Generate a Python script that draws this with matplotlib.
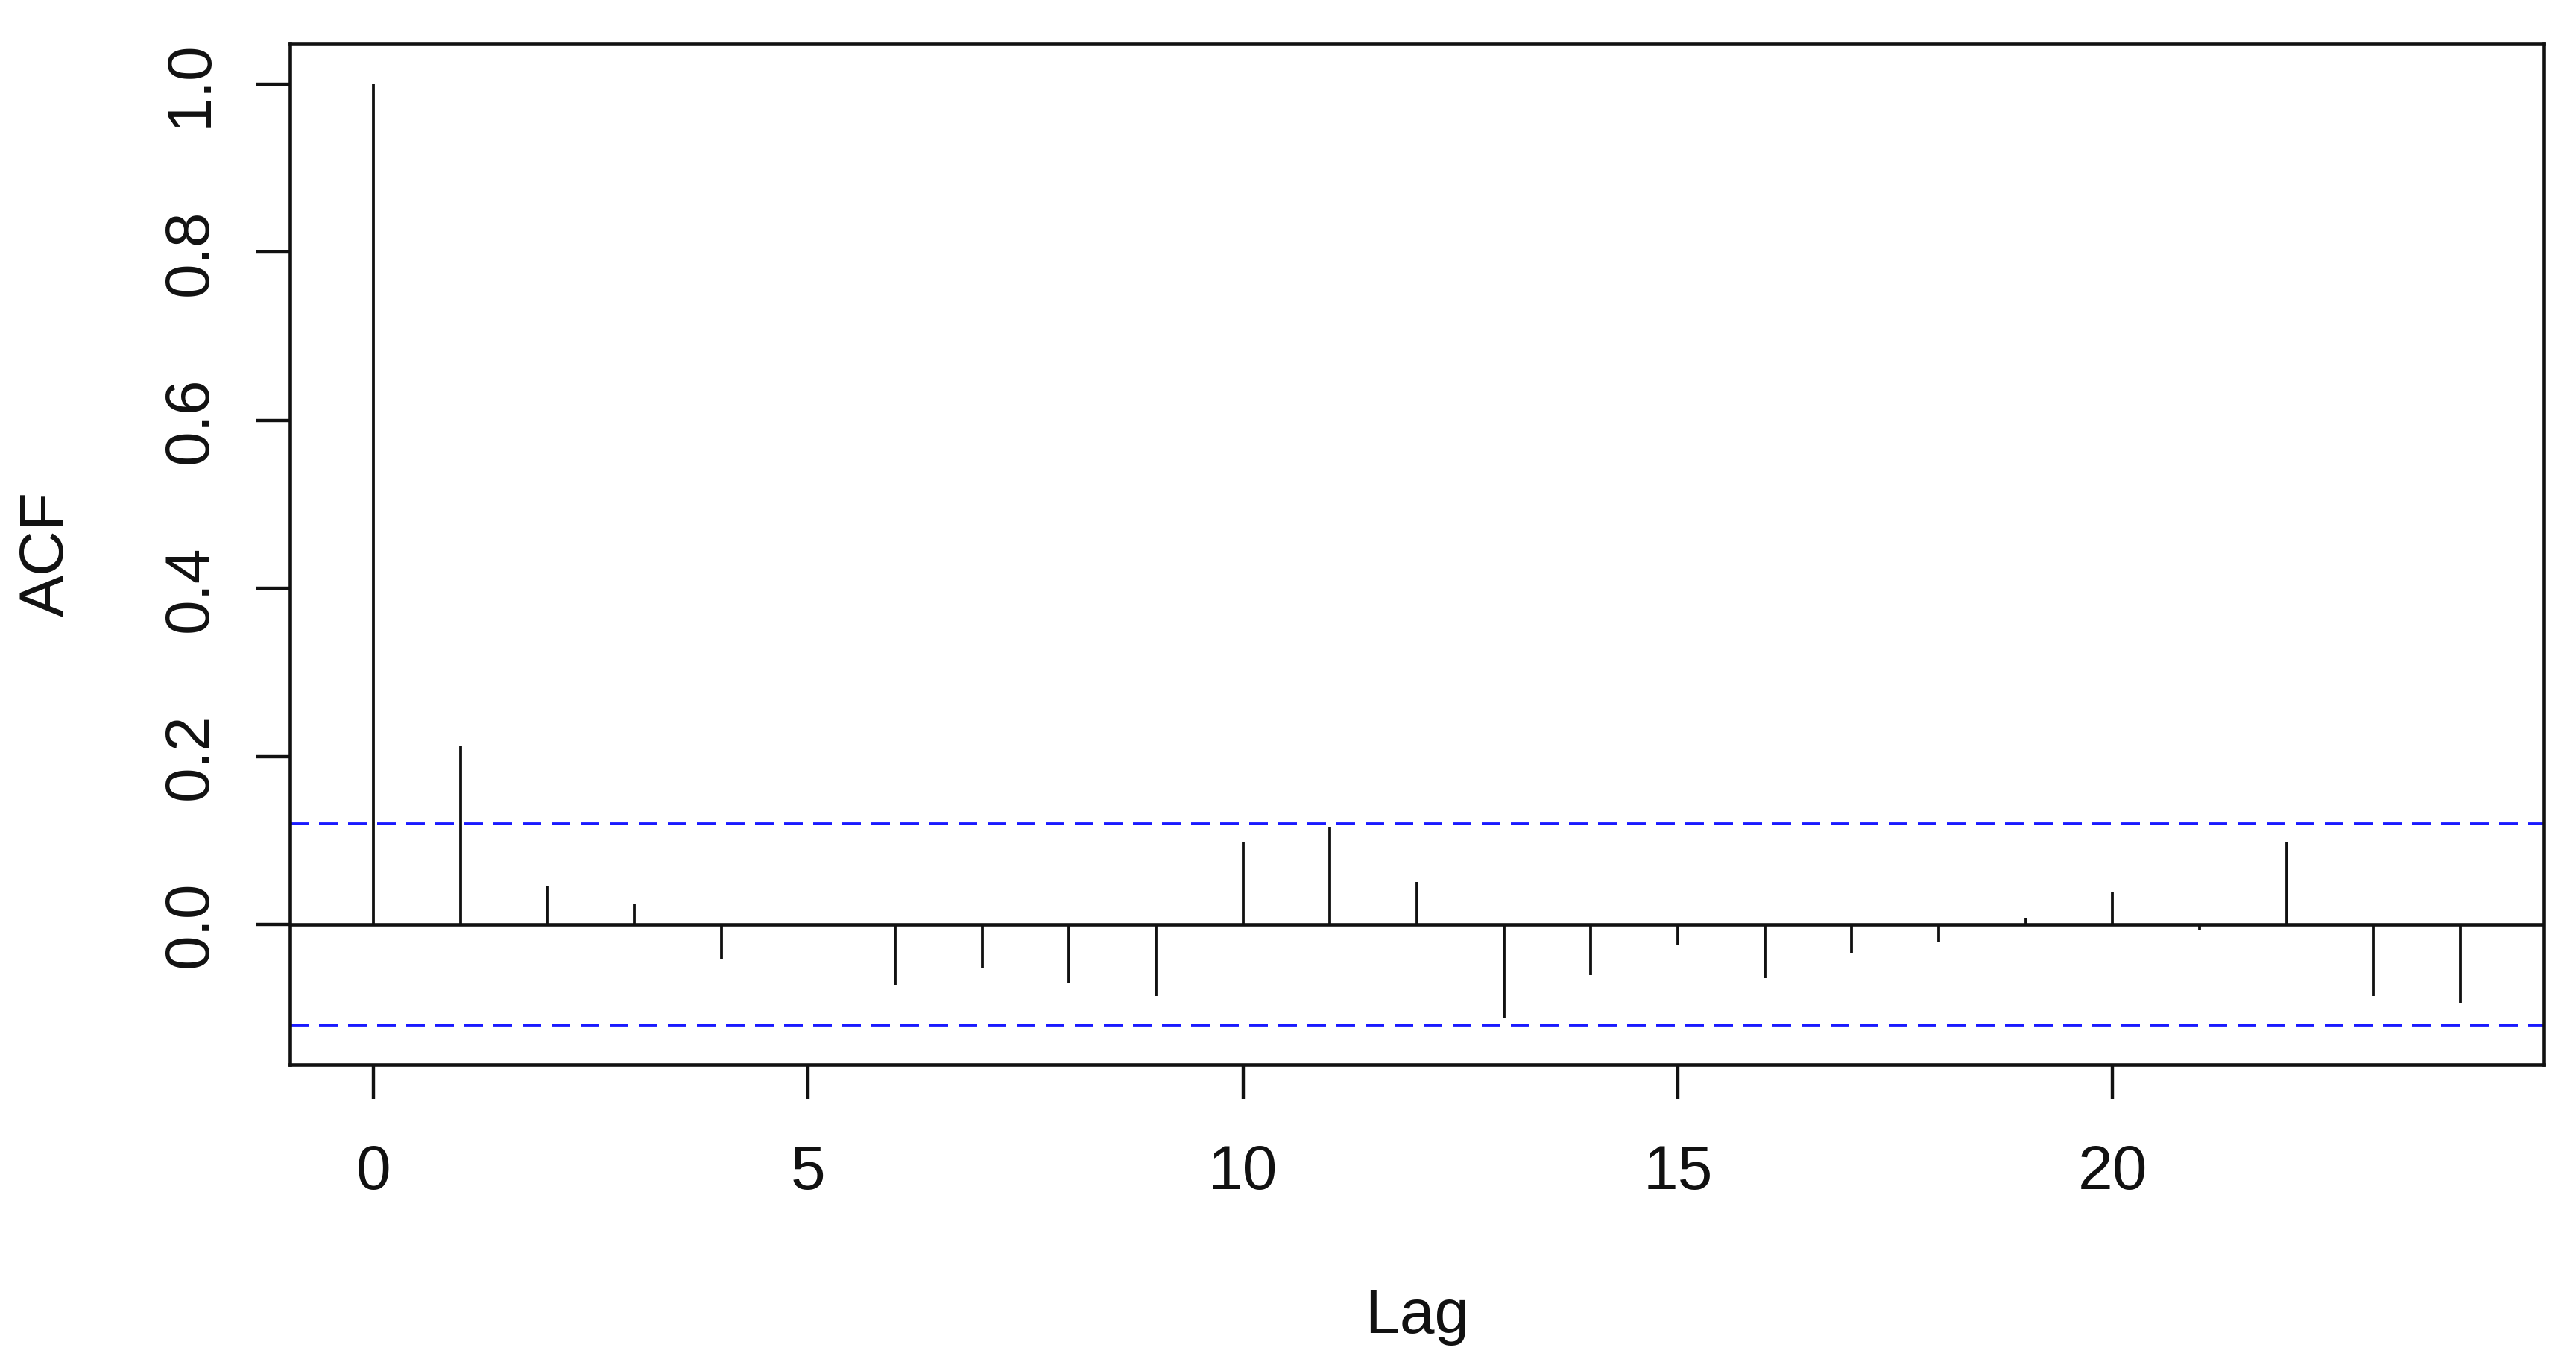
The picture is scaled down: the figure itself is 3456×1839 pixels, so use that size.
import matplotlib
matplotlib.use("Agg")
import matplotlib.pyplot as plt
import numpy as np

# Data
lags = list(range(0, 25))
acf_values = [1.0, 0.212, 0.046, 0.025, -0.041, -0.001, -0.0716, -0.051, -0.069,
              -0.0856, 0.098, 0.116, 0.051, -0.1115, -0.060, -0.0247, -0.0638,
              -0.0336, -0.020, 0.0075, 0.038, -0.0065, 0.098, -0.0856, -0.094]
conf_limit = 0.12
x_ticks = [0, 5, 10, 15, 20]
y_ticks = [0.0, 0.2, 0.4, 0.6, 0.8, 1.0]
y_tick_labels = ["0.0", "0.2", "0.4", "0.6", "0.8", "1.0"]

plt.rcParams['font.family'] = ['Liberation Sans', 'DejaVu Sans']

DPI = 288
fig = plt.figure(figsize=(3456 / DPI, 1839 / DPI), dpi=DPI)
ax = fig.add_axes([389 / 3456, 1 - 1428 / 1839, 3024 / 3456, 1369 / 1839])

ax.vlines(lags, 0, acf_values, colors='#111111', linewidth=0.95)
ax.axhline(0, color='#111111', linewidth=1.15)
lw_b = 0.95
for c in (conf_limit, -conf_limit):
    ax.axhline(c, color='#1a1aFF', linewidth=lw_b,
               linestyle=(0, (6.25 / lw_b, 3.5 / lw_b)))

ax.set_xlim(-0.96, 24.96)
ax.set_ylim(-0.1668, 1.048)

ax.set_xticks(x_ticks)
ax.set_yticks(y_ticks)
ax.set_yticklabels(y_tick_labels, rotation=90, va='center')

for s in ax.spines.values():
    s.set_linewidth(1.15)
    s.set_color('#111111')

ax.tick_params(axis='both', direction='out', length=11.5, width=1.1,
               labelsize=21, colors='#111111')
ax.tick_params(axis='x', pad=15)
ax.tick_params(axis='y', pad=12)

ax.set_xlabel('Lag', fontsize=21, va='baseline', color='#111111')
ax.xaxis.set_label_coords(0.5, (1428 - 1788) / 1369)
ax.set_ylabel('ACF', fontsize=21, va='center', ha='center', color='#111111')
ax.yaxis.set_label_coords((63 - 389) / 3024, 0.5)

fig.savefig('out.png', dpi=DPI)
